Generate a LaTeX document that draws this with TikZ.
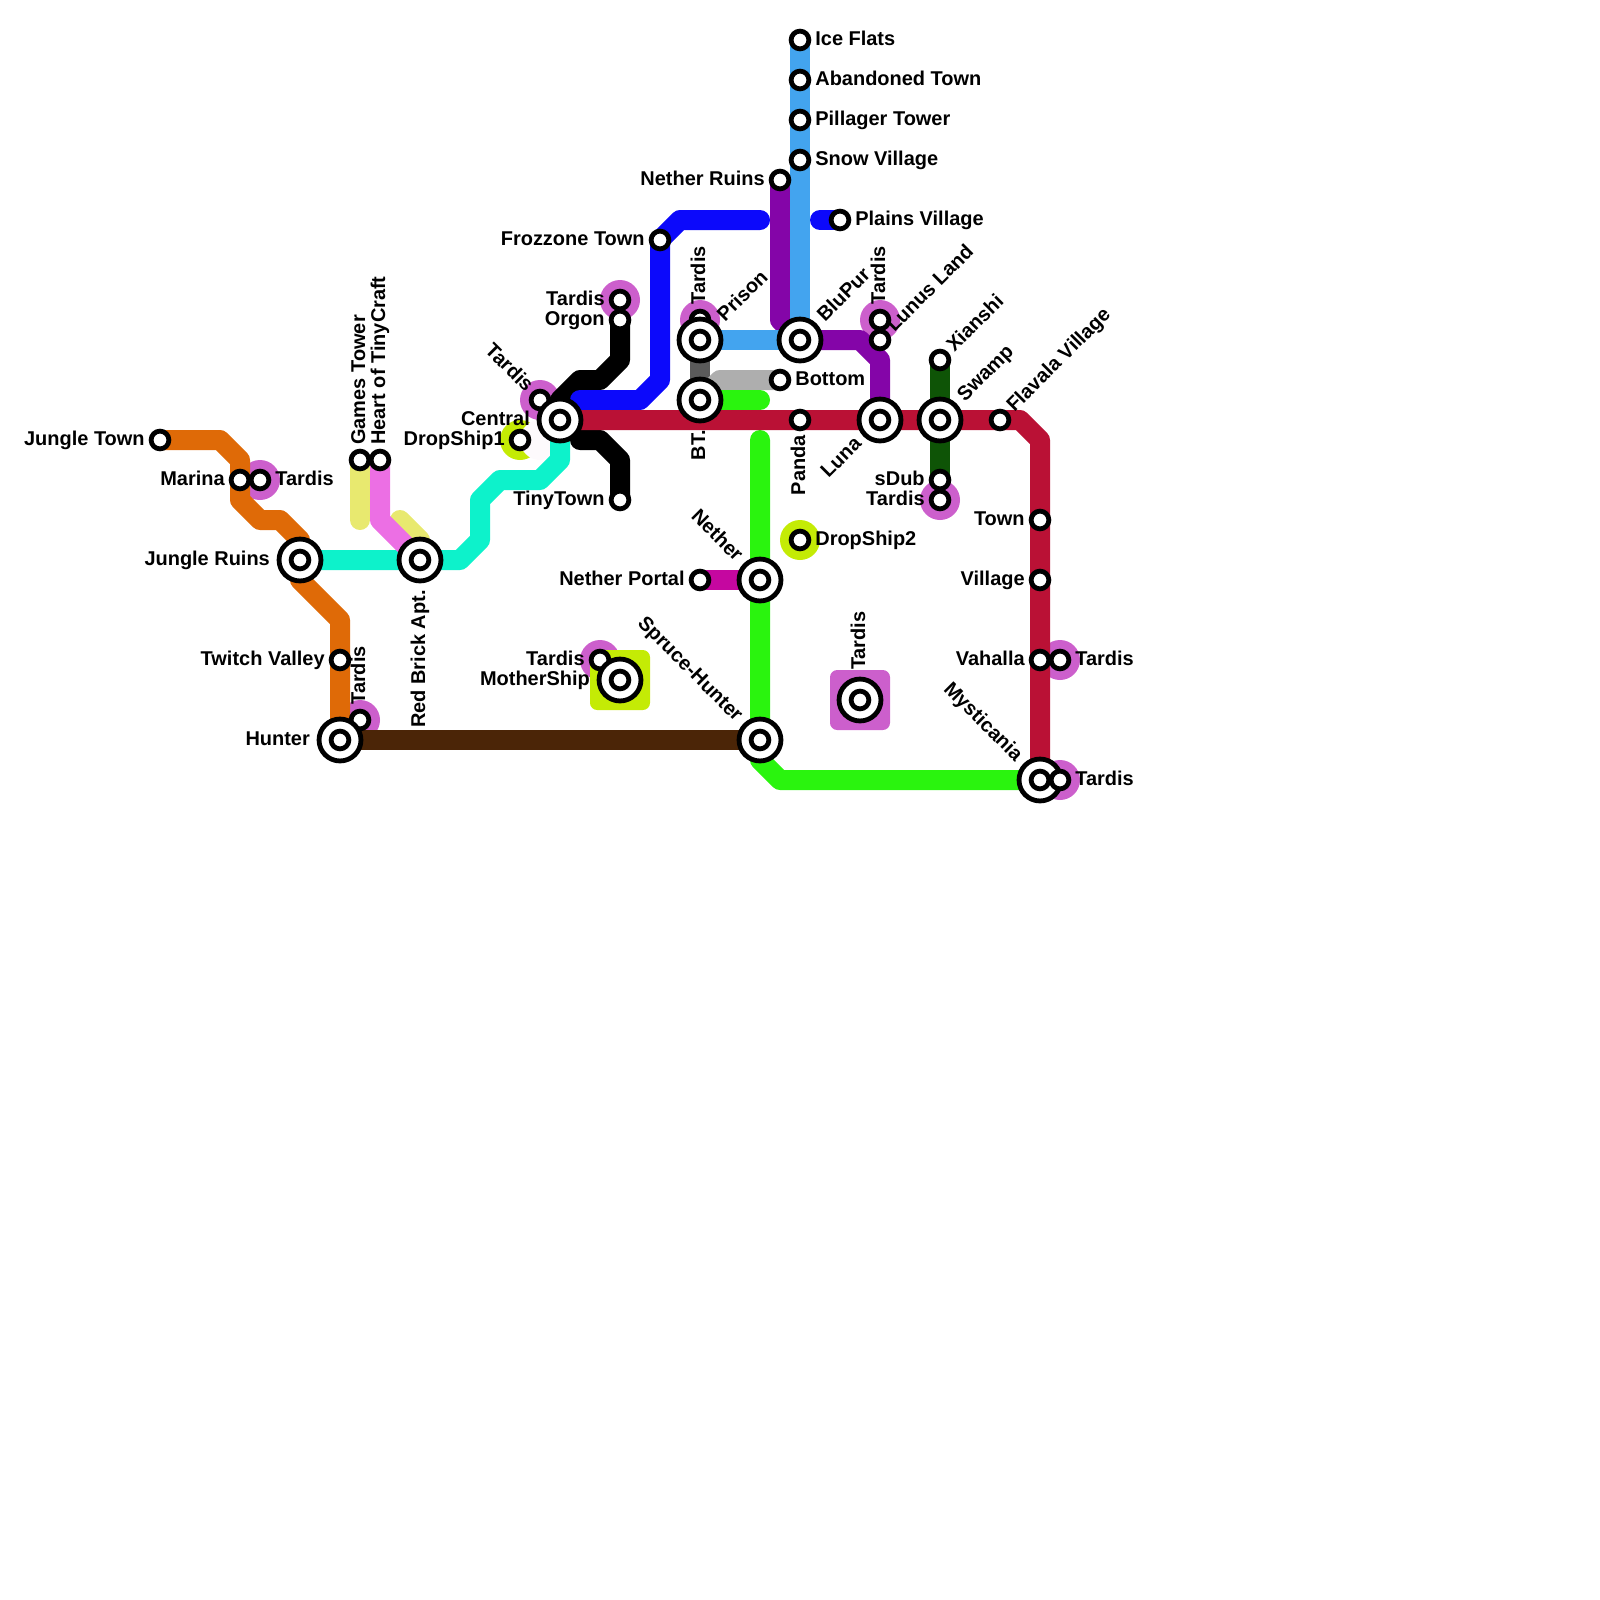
\documentclass[tikz,border=0pt]{standalone}
\usepackage{fontspec}
\setmainfont{Liberation Sans}
\usepackage{xcolor}
\definecolor{orangeline}{HTML}{DF6A07}
\definecolor{tealline}{HTML}{0DF2CB}
\definecolor{paleyellow}{HTML}{E8E96F}
\definecolor{pinkline}{HTML}{EC6FE4}
\definecolor{blueline}{HTML}{0C09FB}
\definecolor{skyline}{HTML}{43A4EF}
\definecolor{purpleline}{HTML}{8405A8}
\definecolor{slateline}{HTML}{5A5A5A}
\definecolor{silverline}{HTML}{AEAEAE}
\definecolor{greenline}{HTML}{2AF40E}
\definecolor{redline}{HTML}{BA1135}
\definecolor{forestline}{HTML}{0E5406}
\definecolor{magentaline}{HTML}{C507A0}
\definecolor{brownline}{HTML}{4B2507}
\definecolor{tardiscol}{HTML}{CC5FCC}
\definecolor{dropcol}{HTML}{C4EB05}
\definecolor{ghostcol}{HTML}{FDFAFC}
\pgfdeclarelayer{halolayer}
\pgfdeclarelayer{linelayer}
\pgfsetlayers{halolayer,linelayer,main}
\tikzset{
  metro/.style={line width=2.5mm,line cap=round,line join=round},
  stop/.style={circle,draw=black,fill=white,line width=.6mm,inner sep=0pt,minimum size=2.22mm},
  hub/.style={stop,minimum size=5.24mm,path picture={
    \draw[line width=.6mm] (path picture bounding box.center) circle (1.11mm);}},
  halo/.style={circle,inner sep=0pt,minimum size=5mm,fill=#1},
  pad/.style={rectangle,inner sep=0pt,minimum size=7.5mm,rounded corners=.9mm,fill=#1},
  stlab/.style={font=\fontsize{7.1}{8}\selectfont\bfseries,inner sep=0pt},
  labE/.style={stlab,anchor=base west,rotate=#1,xshift=1.85mm,yshift=-.65mm},
  labE/.default=0,
  labW/.style={stlab,anchor=base east,rotate=#1,xshift=-1.85mm,yshift=-.65mm},
  labW/.default=0,
  labEbig/.style={stlab,anchor=base west,rotate=#1,xshift=3.7mm,yshift=-.65mm},
  labWbig/.style={stlab,anchor=base east,rotate=#1,xshift=-3.7mm,yshift=-.65mm},
  labWbig/.default=0
}
\begin{document}
\begin{tikzpicture}[x=.25cm,y=-.25cm]
\useasboundingbox (0,0) rectangle (80,80);

% small stops
\foreach \p/\x/\y in {jtown/8/22,marina/12/24,tmarina/13/24,games/18/23,heart/19/23,
  twitch/17/33,thunter/18/36,tcentral/27/20,dropone/26/22,torgon/31/15,orgon/31/16,
  tiny/31/25,frozzone/33/12,tprison/35/16,nportal/35/29,nruins/39/9,bottom/39/19,
  ice/40/2,abandoned/40/4,pillager/40/6,snow/40/8,panda/40/21,droptwo/40/27,
  plains/42/11,tlunus/44/16,lunus/44/17,xianshi/47/18,sdub/47/24,tsdub/47/25,
  flavala/50/21,town/52/26,village/52/29,vahalla/52/33,tvahalla/53/33,
  tmother/30/33}{
  \node[stop] (\p) at (\x,\y) {};
}
% interchanges
\foreach \p/\x/\y in {jruins/15/28,redbrick/21/28,hunter/17/37,central/28/21,prison/35/17,
  bt/35/20,blupur/40/17,luna/44/21,swamp/47/21,nether/38/29,spruce/38/37,
  myst/52/39,mother/31/34,tpad/43/35}{
  \node[hub] (\p) at (\x,\y) {};
}
\node[stop] (tmyst) at (53,39) {};

% bends
\foreach \p/\x/\y in {oa/11/22,ob/12/23,oc/12/25,od/13/26,oe/14/26,of/15/27,og/15/29,oh/17/31,
  ta/23/28,tb/24/27,tc/24/25,td/25/24,te/27/24,tf/28/23,
  ya/18/26,yb/20/26,yc/21/27,pa/19/26,
  ka/31/18,kb/30/19,kc/29/19,kd/28/20,ke/29/22,kf/30/22,kg/31/23,
  ba/38/11,bb/34/11,bc/33/19,bd/32/20,be/29/20,bf/41/11,
  ua/39/16,ub/43/17,uc/44/18,sa/36/19,ga/38/20,gb/38/22,gc/38/38,gd/39/39,
  ra/51/21,rb/52/22,ghost/27/22}{
  \coordinate (\p) at (\x,\y);
}

\begin{pgfonlayer}{halolayer}
  \foreach \p in {tmarina,thunter,tcentral,torgon,tprison,tlunus,tsdub,tvahalla,tmyst,tmother}{
    \node[halo=tardiscol] (h\p) at (\p) {};
  }
  \foreach \p in {dropone,droptwo}{
    \node[halo=dropcol] (h\p) at (\p) {};
  }
  \node[halo=ghostcol] (hghost) at (ghost) {};
  \node[pad=dropcol] (pmother) at (mother) {};
  \node[pad=tardiscol] (ptpad) at (tpad) {};
\end{pgfonlayer}

\begin{pgfonlayer}{linelayer}
  \draw[metro,orangeline] (jtown.center)--(oa)--(ob)--(oc)--(od)--(oe)--(of)--(jruins.center)--(og)--(oh)--(hunter.center);
  \draw[metro,tealline] (jruins.center)--(redbrick.center)--(ta)--(tb)--(tc)--(td)--(te)--(tf)--(central.center);
  \draw[metro,paleyellow] (games.center)--(ya);
  \draw[metro,paleyellow] (yb)--(yc)--(redbrick.center);
  \draw[metro,pinkline] (heart.center)--(pa)--(redbrick.center);
  \draw[metro,black] (orgon.center)--(ka)--(kb)--(kc)--(kd)--(central.center);
  \draw[metro,black] (ke)--(kf)--(kg)--(tiny.center);
  \draw[metro,blueline] (ba)--(bb)--(frozzone.center)--(bc)--(bd)--(be);
  \draw[metro,blueline] (bf)--(plains.center);
  \draw[metro,purpleline] (nruins.center)--(ua)--(blupur.center)--(ub)--(uc)--(luna.center);
  \draw[metro,skyline] (ice.center)--(blupur.center)--(prison.center);
  \draw[metro,slateline] (prison.center)--(bt.center);
  \draw[metro,silverline] (bottom.center)--(sa)--(bt.center);
  \draw[metro,greenline] (bt.center)--(ga);
  \draw[metro,greenline] (gb)--(nether.center)--(spruce.center)--(gc)--(gd)--(myst.center);
  \draw[metro,forestline] (xianshi.center)--(sdub.center);
  \draw[metro,redline] (central.center)--(ra)--(rb)--(myst.center);
  \draw[metro,magentaline] (nportal.center)--(nether.center);
  \draw[metro,brownline] (hunter.center)--(spruce.center);
\end{pgfonlayer}

% labels
\foreach \p/\rot/\lab in {ice/0/Ice Flats,abandoned/0/Abandoned Town,pillager/0/Pillager Tower,
  snow/0/Snow Village,plains/0/Plains Village,bottom/0/Bottom,droptwo/0/DropShip2,
  tmarina/0/Tardis,tvahalla/0/Tardis,tmyst/0/Tardis,
  games/90/Games Tower,heart/90/Heart of TinyCraft,thunter/90/Tardis,tprison/90/Tardis,tlunus/90/Tardis,
  xianshi/45/Xianshi,flavala/45/Flavala Village,lunus/45/Lunus Land}{
  \node[labE=\rot] (l\p) at (\p) {\lab};
}
\foreach \p/\rot/\lab in {jtown/0/Jungle Town,marina/0/Marina,twitch/0/Twitch Valley,dropone/0/DropShip1,
  torgon/0/Tardis,orgon/0/Orgon,tiny/0/TinyTown,frozzone/0/Frozzone Town,nportal/0/Nether Portal,
  nruins/0/Nether Ruins,sdub/0/sDub,tsdub/0/Tardis,town/0/Town,village/0/Village,vahalla/0/Vahalla,
  tmother/0/Tardis,panda/90/Panda,tcentral/-45/Tardis}{
  \node[labW=\rot] (l\p) at (\p) {\lab};
}
\foreach \p/\rot/\lab in {prison/45/Prison,blupur/45/BluPur,swamp/45/Swamp,tpad/90/Tardis}{
  \node[labEbig=\rot] (l\p) at (\p) {\lab};
}
\foreach \p/\rot/\lab in {jruins/0/Jungle Ruins,hunter/0/Hunter,mother/0/MotherShip,central/0/Central,
  redbrick/90/Red Brick Apt.,bt/90/BT.,nether/-45/Nether,spruce/-45/Spruce-Hunter,
  myst/-45/Mysticania,luna/45/Luna}{
  \node[labWbig=\rot] (l\p) at (\p) {\lab};
}
\end{tikzpicture}
\end{document}
